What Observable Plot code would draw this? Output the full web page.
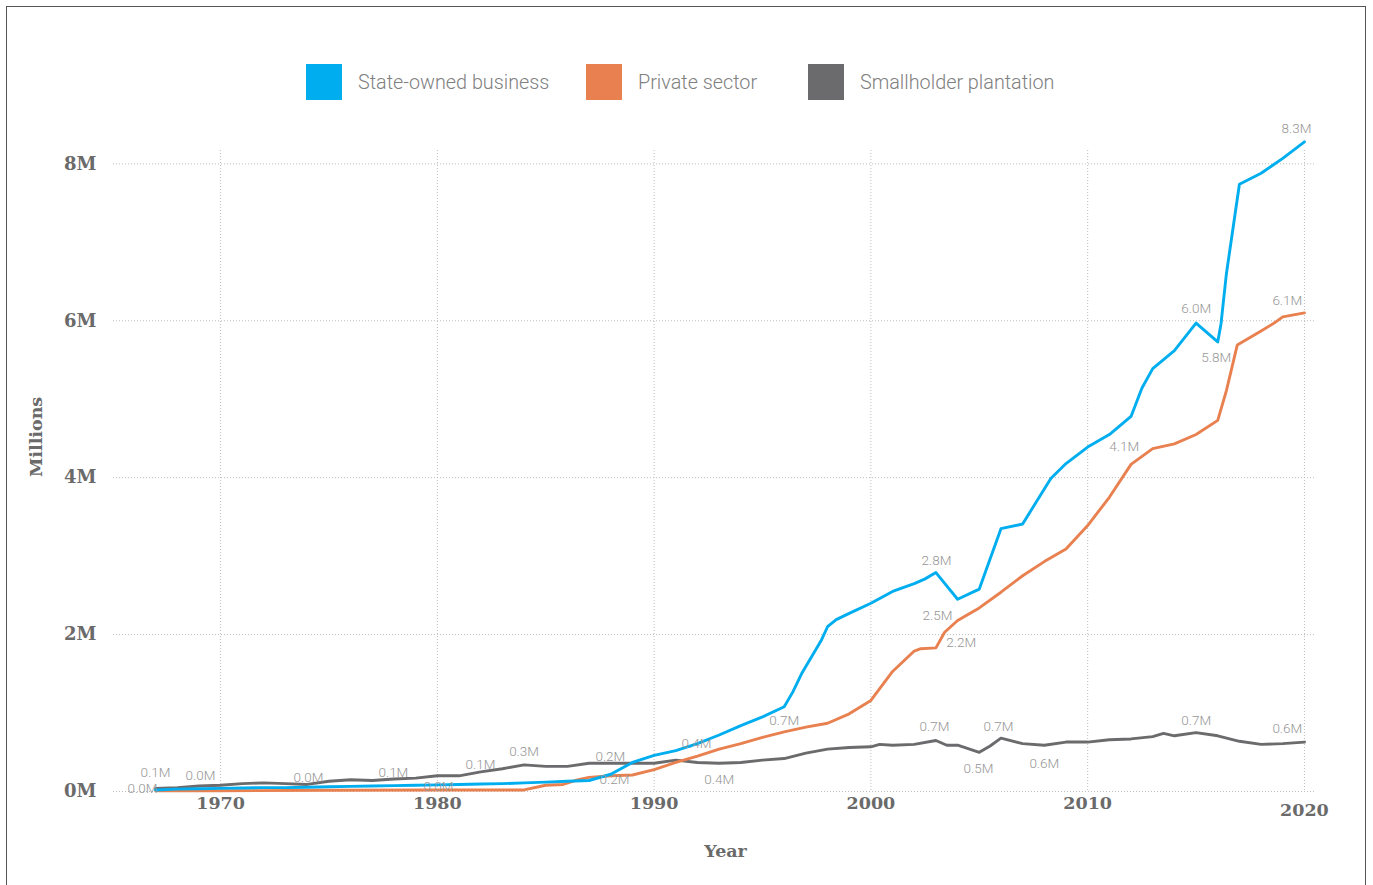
<!DOCTYPE html>
<html>
<head>
<meta charset="utf-8">
<script src="https://cdn.jsdelivr.net/npm/d3@7"></script>
<script src="https://cdn.jsdelivr.net/npm/@observablehq/plot@0.6"></script>
<style>
  html, body { margin: 0; padding: 0; background: #fff; }
  #wrap { position: relative; width: 1373px; height: 885px; overflow: hidden; }
  #frame { position: absolute; left: 6px; top: 6px; width: 1360px; height: 900px; border: 1px solid #555; box-sizing: border-box; pointer-events: none; }
  #legend { position: relative; height: 120px; font-family: Roboto, "Noto Sans", sans-serif; font-weight: 300; font-size: 19.8px; color: #808080; }
  .item { position: absolute; top: 64px; display: flex; align-items: center; }
  .sw { width: 36px; height: 36px; margin-right: 16px; }
  #chart svg { display: block; }
</style>
</head>
<body>
<div id="wrap">
  <div id="legend"></div>
  <div id="chart"></div>
  <div id="frame"></div>
</div>
<script>
// ---- data (millions) ----
const seriesNames = ["State-owned business", "Private sector", "Smallholder plantation"];
const seriesColors = ["#00aeef", "#e8804f", "#6b6b6d"];

const stateOwned = [
  [1967,0.02],[1968,0.03],[1969,0.035],[1970,0.04],[1971,0.045],[1972,0.05],[1973,0.05],[1974,0.055],
  [1975,0.06],[1976,0.065],[1977,0.07],[1978,0.075],[1979,0.08],[1980,0.085],[1981,0.09],[1982,0.095],
  [1983,0.10],[1984,0.11],[1985,0.12],[1986,0.13],[1987,0.14],[1988,0.22],[1989,0.37],[1990,0.46],
  [1991,0.52],[1992,0.61],[1993,0.72],[1994,0.84],[1995,0.95],[1996,1.08],[1996.4,1.27],[1996.8,1.50],
  [1997.7,1.92],[1998,2.10],[1998.4,2.19],[1999,2.27],[2000,2.40],[2001,2.55],[2002,2.65],[2002.5,2.71],
  [2003,2.79],[2004,2.45],[2005,2.58],[2006,3.35],[2007,3.41],[2008.3,3.99],[2009,4.18],[2010,4.39],
  [2011,4.55],[2012,4.78],[2012.5,5.14],[2013,5.39],[2014,5.62],[2015,5.97],[2016,5.73],[2016.15,5.96],
  [2016.4,6.60],[2017,7.74],[2018,7.88],[2019,8.07],[2020,8.28]
];
const privateSector = [
  [1967,0.01],[1970,0.01],[1975,0.015],[1980,0.02],[1983,0.02],[1984,0.02],[1985,0.08],[1985.8,0.09],
  [1986.5,0.15],[1987,0.18],[1988,0.20],[1989,0.21],[1990,0.28],[1991,0.37],[1992,0.45],[1993,0.54],
  [1994,0.61],[1995,0.69],[1996,0.76],[1997,0.82],[1998,0.87],[1999,0.99],[2000,1.16],[2001,1.53],
  [2002,1.79],[2002.3,1.82],[2003,1.83],[2003.4,2.03],[2004,2.18],[2005,2.34],[2006,2.54],[2007,2.75],
  [2008,2.93],[2009,3.09],[2010,3.39],[2011,3.75],[2012,4.17],[2013,4.37],[2014,4.43],[2015,4.55],
  [2016,4.73],[2016.4,5.11],[2016.9,5.69],[2018,5.87],[2018.6,5.97],[2019,6.05],[2020,6.10]
];
const smallholder = [
  [1967,0.04],[1968,0.05],[1969,0.07],[1970,0.08],[1971,0.10],[1972,0.11],[1973,0.10],[1974,0.09],
  [1975,0.13],[1976,0.15],[1977,0.14],[1978,0.16],[1979,0.17],[1980,0.20],[1981,0.20],[1982,0.25],
  [1983,0.29],[1984,0.34],[1985,0.32],[1986,0.32],[1987,0.36],[1988,0.36],[1989,0.36],[1990,0.36],
  [1991,0.40],[1992,0.37],[1993,0.36],[1994,0.37],[1995,0.40],[1996,0.42],[1997,0.49],[1998,0.54],
  [1999,0.56],[2000,0.57],[2000.4,0.60],[2001,0.59],[2002,0.60],[2003,0.65],[2003.5,0.59],[2004,0.59],
  [2005,0.50],[2005.5,0.58],[2006,0.68],[2007,0.61],[2008,0.59],[2009,0.63],[2010,0.63],[2011,0.66],
  [2012,0.67],[2013,0.70],[2013.5,0.74],[2014,0.71],[2015,0.75],[2016,0.71],[2017,0.64],[2018,0.60],
  [2019,0.61],[2020,0.63]
];

// value labels as printed on the chart: [year, value, text]
const valueLabels = [
  [1967.0,0.24,"0.1M"],[1966.4,0.03,"0.0M"],[1969.07,0.20,"0.0M"],[1974.05,0.17,"0.0M"],
  [1977.97,0.24,"0.1M"],[1980.05,0.06,"0.0M"],[1981.99,0.34,"0.1M"],[1984.0,0.51,"0.3M"],
  [1987.98,0.45,"0.2M"],[1988.17,0.15,"0.2M"],[1991.95,0.61,"0.4M"],[1993.0,0.15,"0.4M"],
  [1996.0,0.90,"0.7M"],[2003.02,2.94,"2.8M"],[2003.07,2.24,"2.5M"],[2004.17,1.90,"2.2M"],
  [2002.93,0.83,"0.7M"],[2005.88,0.83,"0.7M"],[2004.96,0.29,"0.5M"],[2008.0,0.36,"0.6M"],
  [2011.69,4.40,"4.1M"],[2015.01,6.15,"6.0M"],[2015.93,5.53,"5.8M"],[2015.01,0.90,"0.7M"],
  [2019.63,8.45,"8.3M"],[2019.21,6.26,"6.1M"],[2019.21,0.80,"0.6M"]
];

const xTicks = [1970, 1980, 1990, 2000, 2010];
const xTickLast = [2020];
const yTicks = [0, 2, 4, 6, 8];
const xLabel = "Year";
const yLabel = "Millions";

// ---- legend ----
const legendX = [306, 586, 808];
const legend = document.getElementById("legend");
seriesNames.forEach((name, i) => {
  const it = document.createElement("div");
  it.className = "item";
  it.style.left = legendX[i] + "px";
  it.innerHTML = `<div class="sw" style="background:${seriesColors[i]}"></div><span>${name}</span>`;
  legend.appendChild(it);
});

// ---- chart ----
const seriesData = [smallholder, privateSector, stateOwned];
const seriesIdx = [2, 1, 0];
const rows = [];
seriesData.forEach((arr, k) => arr.forEach(([year, value]) => rows.push({year, value, series: seriesNames[seriesIdx[k]]})));
const labels = valueLabels.map(([year, value, text]) => ({year, value, text}));

const tickFont = "'DejaVu Serif', serif";
const axisColor = "#6a6a6a";
const chart = Plot.plot({
  width: 1373,
  height: 765,
  marginLeft: 113,
  marginRight: 58,
  marginTop: 30,
  marginBottom: 94,
  style: {fontFamily: tickFont, background: "transparent", overflow: "visible"},
  x: {domain: [1965.06, 2020.51]},
  y: {domain: [0, 8.17]},
  color: {domain: seriesNames, range: seriesColors},
  marks: [
    Plot.ruleX(xTicks.concat(xTickLast), {stroke: "#bdbdbd", strokeWidth: 1, strokeDasharray: "1,2"}),
    Plot.ruleY(yTicks, {stroke: "#bdbdbd", strokeWidth: 1, strokeDasharray: "1,2"}),
    Plot.axisY({ticks: yTicks, tickSize: 0, tickPadding: 17, tickFormat: d => d + "M",
      fontSize: 18, fontWeight: "bold", fill: axisColor, label: null}),
    Plot.axisX({ticks: xTicks, tickSize: 0, tickPadding: 5, tickFormat: d => String(d),
      fontSize: 17.5, fontWeight: "bold", fill: axisColor, label: null}),
    Plot.axisX({ticks: xTickLast, tickSize: 0, tickPadding: 12, tickFormat: d => String(d),
      fontSize: 17.5, fontWeight: "bold", fill: axisColor, label: null}),
    Plot.line(rows, {x: "year", y: "value", z: "series", stroke: "series", strokeWidth: 2.9,
      curve: "linear", strokeLinejoin: "round", strokeLinecap: "round"}),
    Plot.text(labels, {x: "year", y: "value", text: "text", fill: "#969696",
      fontSize: 13.5, fontFamily: "Roboto, sans-serif", fontWeight: 300}),
    Plot.text([xLabel], {frameAnchor: "bottom", dx: 11, dy: 65, fontSize: 17.5, fontWeight: "bold", fill: axisColor}),
    Plot.text([yLabel], {frameAnchor: "left", dx: -77, dy: 6, rotate: -90, fontSize: 17.5, fontWeight: "bold", fill: axisColor})
  ]
});
document.getElementById("chart").appendChild(chart);
</script>
</body>
</html>
